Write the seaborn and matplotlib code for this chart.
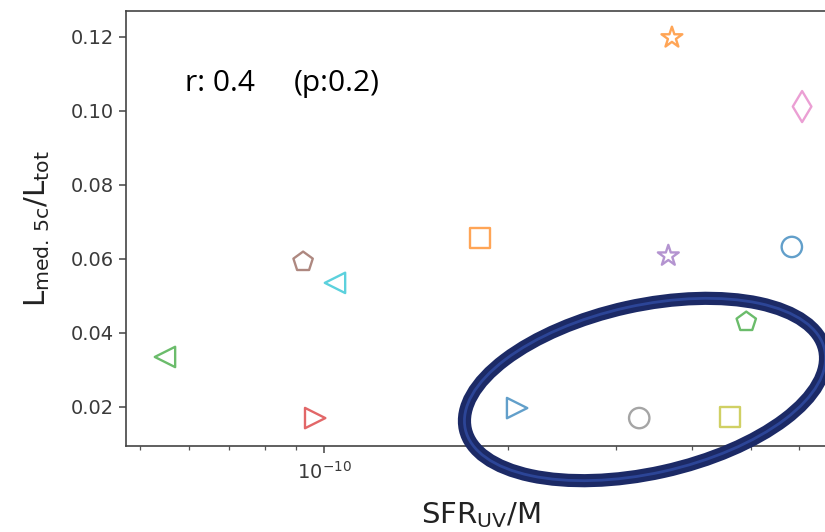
import numpy as np
import matplotlib
matplotlib.use("Agg")
import matplotlib.pyplot as plt
import seaborn as sns
from matplotlib.patches import Ellipse
from matplotlib.transforms import IdentityTransform
from matplotlib.ticker import FixedLocator, NullFormatter

# Specific SFR (UV) versus central light fraction, one marker per galaxy
ssfr_uv = [5.49e-11, 9.24e-11, 1.042e-10, 9.67e-11, 1.80e-10, 3.71e-10, 6.06e-10,
           3.66e-10, 5.83e-10, 4.91e-10, 2.07e-10, 3.28e-10, 4.62e-10]
l_frac = [0.0335, 0.0592, 0.0535, 0.0170, 0.0657, 0.1197, 0.1011,
          0.0608, 0.0632, 0.0430, 0.0197, 0.0170, 0.0173]

marker_list = ["<", "p", "<", ">", "s", "*", "d", "*", "o", "p", ">", "o", "s"]
color_list = ["tab:green", "tab:brown", "tab:cyan", "tab:red", "tab:orange", "tab:orange",
              "tab:pink", "tab:purple", "tab:blue", "tab:green", "tab:blue", "tab:gray",
              "tab:olive"]

y_ticks = [0.02, 0.04, 0.06, 0.08, 0.10, 0.12]
x_major = [1e-10]
x_minor = [5e-11, 6e-11, 7e-11, 8e-11, 9e-11, 2e-10, 3e-10, 4e-10, 5e-10, 6e-10]

r_text = "r: 0.4"
p_text = "(p:0.2)"

sns.set_style("ticks")
plt.rcParams["font.family"] = ["DejaVu Sans"]

W, H, DPI = 825, 532, 100
fig = plt.figure(figsize=(W / DPI, H / DPI), dpi=DPI)
ax = fig.add_axes([126 / W, (H - 446) / H, 709 / W, 435 / H])

for xv, yv, m, c in zip(ssfr_uv, l_frac, marker_list, color_list):
    size = 250 if m in ("*", "d") else 215
    sns.scatterplot(x=[xv], y=[yv], marker=m, s=size, facecolors="none",
                    edgecolor=c, linewidth=1.7, alpha=0.7, ax=ax, legend=False)

ax.set_xscale("log")
ax.set_xlim(4.74e-11, 6.86e-10)
ax.set_ylim(0.00946, 0.1269)
ax.set_yticks(y_ticks)
ax.set_xticks(x_major)
ax.xaxis.set_minor_locator(FixedLocator(x_minor))
ax.xaxis.set_minor_formatter(NullFormatter())

for s in ax.spines.values():
    s.set_color("#444444")
    s.set_linewidth(1.2)
ax.tick_params(axis="both", which="major", labelsize=14, colors="#444444",
               labelcolor="#3a3a3a", length=5, width=1.1)
ax.tick_params(axis="x", which="major", pad=6)
ax.tick_params(axis="x", which="minor", length=3, width=0.9, colors="#555555")

ax.set_xlabel(r"SFR$_{\mathrm{UV}}$/M", fontsize=21, color="#222222", labelpad=12)
ax.set_ylabel(r"L$_{\mathrm{med.\,5c}}$/L$_{\mathrm{tot}}$", fontsize=21,
              color="#222222", labelpad=14)

# Correlation coefficient and p-value
ax.text(0.083, 0.817, r_text, transform=ax.transAxes, fontsize=21.5,
        family="Open Sans", color="black", va="baseline", ha="left")
ax.text(0.236, 0.817, p_text, transform=ax.transAxes, fontsize=21.5,
        family="Open Sans", color="black", va="baseline", ha="left")

# Highlight ring around the low-light-fraction group
ring = Ellipse((645, H - 389.5), width=2 * 184, height=2 * 84, angle=12.5,
               transform=IdentityTransform(), fill=False, edgecolor="#1c2a66",
               linewidth=9.5)
ring_core = Ellipse((645, H - 389.5), width=2 * 184, height=2 * 84, angle=12.5,
                    transform=IdentityTransform(), fill=False, edgecolor="#2c4597",
                    linewidth=2.0)
fig.add_artist(ring)
fig.add_artist(ring_core)

fig.savefig("out.png", dpi=DPI)
